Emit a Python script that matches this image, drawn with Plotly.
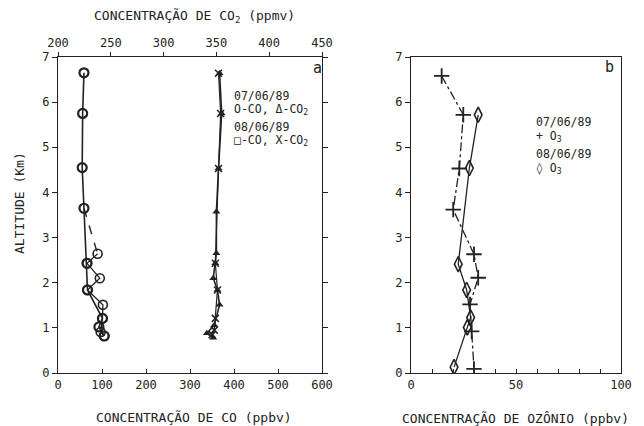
import plotly.graph_objects as go

# ---- data ----
# CO, panel a (ppbv) vs altitude (km)
alt_co_dark = [6.65, 5.75, 4.55, 3.65, 2.43, 1.84, 1.21, 1.02, 0.82]
co_dark = [59, 56, 55, 59, 66, 67, 101, 93, 105]
alt_co_open = [3.65, 2.64, 2.43, 2.10, 1.84, 1.51, 1.21, 0.91, 0.82]
co_open = [59, 90, 66, 95, 67, 102, 101, 97, 105]

# CO2, panel a (ppmv)
alt_co2_tri = [6.64, 5.75, 4.53, 3.57, 2.65, 2.43, 2.10, 1.84, 1.51, 1.06, 0.88, 0.78]
co2_tri = [353, 355, 352, 350, 350, 349, 347, 351, 353, 348, 341, 347]
alt_co2_x = [6.64, 5.75, 4.53, 2.43, 1.84, 1.21, 0.95, 0.85]
co2_x = [352, 354, 352, 349, 351, 349, 348, 346]

# O3, panel b (ppbv)
alt_o3_plus = [6.58, 5.72, 4.53, 3.62, 2.63, 2.11, 1.52, 0.92, 0.09]
o3_plus = [14.6, 24.9, 23.0, 20.1, 30.0, 32.0, 28.1, 28.9, 30.0]
alt_o3_dia = [5.72, 4.54, 2.41, 1.84, 1.23, 1.01, 0.13]
o3_dia = [32.0, 27.8, 22.5, 26.5, 28.4, 26.8, 20.5]

co_ticks = [0, 100, 200, 300, 400, 500, 600]
co2_ticks = [200, 250, 300, 350, 400, 450]
o3_ticks = [0, 50, 100]
alt_ticks = [0, 1, 2, 3, 4, 5, 6, 7]

INK = "#222222"
FONT = "DejaVu Sans Mono"

fig = go.Figure()

# CO traces
fig.add_trace(go.Scatter(x=co_dark, y=alt_co_dark, xaxis="x", yaxis="y", mode="lines+markers",
                         line=dict(color=INK, width=1.6),
                         marker=dict(symbol="circle-open", size=9, color=INK, line=dict(width=2.2))))
fig.add_trace(go.Scatter(x=co_open[:2], y=alt_co_open[:2], xaxis="x", yaxis="y", mode="lines",
                         line=dict(color=INK, width=1.4, dash="dash")))
fig.add_trace(go.Scatter(x=co_open[1:], y=alt_co_open[1:], xaxis="x", yaxis="y", mode="lines+markers",
                         line=dict(color=INK, width=1.3),
                         marker=dict(symbol="circle-open", size=9, color=INK, line=dict(width=1.6))))

# CO2 traces (top axis)
fig.add_trace(go.Scatter(x=co2_tri, y=alt_co2_tri, xaxis="x2", yaxis="y", mode="lines+markers",
                         line=dict(color=INK, width=1.6),
                         marker=dict(symbol="triangle-up", size=7, color=INK)))
fig.add_trace(go.Scatter(x=co2_x, y=alt_co2_x, xaxis="x2", yaxis="y", mode="lines+markers",
                         line=dict(color=INK, width=1.2),
                         marker=dict(symbol="x-thin-open", size=7, color=INK, line=dict(width=1.5, color=INK))))

# O3 traces
fig.add_trace(go.Scatter(x=o3_plus, y=alt_o3_plus, xaxis="x3", yaxis="y3", mode="lines+markers",
                         line=dict(color=INK, width=1.3, dash="dashdot"),
                         marker=dict(symbol="cross-thin-open", size=11, color=INK, line=dict(width=1.8, color=INK))))
fig.add_trace(go.Scatter(x=o3_dia, y=alt_o3_dia, xaxis="x3", yaxis="y3", mode="lines+markers",
                         line=dict(color=INK, width=1.3),
                         marker=dict(symbol="diamond-tall-open", size=11, color=INK, line=dict(width=1.6))))

# the page body adds an 8 px offset; work in reference-pixel coordinates shifted by it
OFF = 8
W, H = 644 - OFF, 426 - OFF

def px(X):
    return (X - OFF) / W

def py(Y):
    return 1 - (Y - OFF) / H

ydom = [py(373), py(57)]
axis_common = dict(showgrid=False, zeroline=False, linecolor=INK, linewidth=1.3, automargin=False,
                   tickcolor=INK, tickfont=dict(family=FONT, size=12, color=INK))

fig.update_layout(
    width=W, height=H, margin=dict(l=0, r=0, t=0, b=0, pad=0, autoexpand=False),
    paper_bgcolor="white", plot_bgcolor="white", showlegend=False,
    font=dict(family=FONT, color=INK),
    xaxis=dict(domain=[px(58), px(322)], range=[0, 600], tickvals=co_ticks, ticks="inside",
               ticklen=4, showline=True, anchor="y", **axis_common),
    xaxis2=dict(range=[200, 450], tickvals=co2_ticks, ticks="outside", ticklen=4, side="top",
                overlaying="x", anchor="y", showline=True, **axis_common),
    yaxis=dict(domain=ydom, range=[0, 7], tickvals=alt_ticks, ticks="outside", ticklen=5,
               showline=True, mirror="ticks", anchor="x", **axis_common),
    xaxis3=dict(domain=[px(411), px(621)], range=[0, 100], tickvals=o3_ticks, ticks="inside",
                ticklen=4, showline=True, mirror=True, anchor="y3",
                minor=dict(dtick=10, ticks="inside", ticklen=4, tickcolor=INK), **axis_common),
    yaxis3=dict(domain=ydom, range=[0, 7], tickvals=alt_ticks, ticks="outside", ticklen=5,
                showline=True, mirror=True, anchor="x3", **axis_common),
)

def txt(x, y, s, size=12, xanchor="left", **kw):
    fig.add_annotation(x=px(x), y=py(y), xref="paper", yref="paper", text=s, showarrow=False,
                       xanchor=xanchor, yanchor="middle", font=dict(family=FONT, size=size, color=INK), **kw)

# axis titles
txt(194, 417, "CONCENTRAÇÃO DE CO (ppbv)", size=13, xanchor="center")
txt(194, 17, "CONCENTRAÇÃO DE CO<sub>2</sub> (ppmv)", size=13, xanchor="center")
txt(515, 418, "CONCENTRAÇÃO DE OZÔNIO (ppbv)", size=13, xanchor="center")
txt(20, 203, "ALTITUDE (Km)", size=13, xanchor="center", textangle=-90)

# panel letters
txt(311, 68, "a", size=15)
txt(603, 67, "b", size=15)

# legends
LS = 11.5
txt(232, 96, "07/06/89", size=LS)
txt(232, 109, "O-CO, Δ-CO<sub>2</sub>", size=LS)
txt(232, 127, "08/06/89", size=LS)
txt(232, 140, "□-CO, X-CO<sub>2</sub>", size=LS)
txt(534, 122, "07/06/89", size=LS)
txt(534, 136, "+ O<sub>3</sub>", size=LS)
txt(534, 154, "08/06/89", size=LS)
txt(534, 168, "◊ O<sub>3</sub>", size=LS)

fig.write_html("out.html")
